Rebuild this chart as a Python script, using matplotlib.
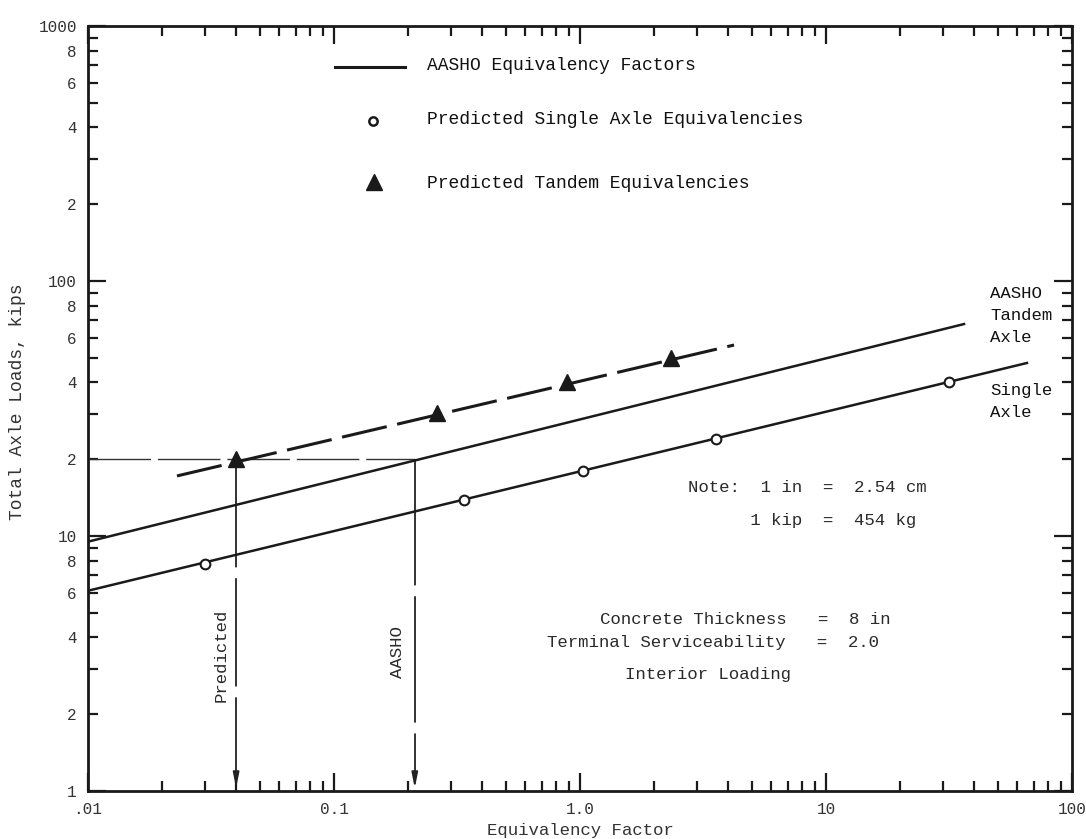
import matplotlib
matplotlib.use("Agg")
import matplotlib.pyplot as plt
from matplotlib.ticker import FixedLocator, FixedFormatter

# data (equivalency factor vs total axle load, kips)
single_x = [0.030, 0.337, 1.03, 3.57, 31.6]
single_y = [7.8, 13.8, 18.0, 24.0, 40.2]
tandem_x = [0.040, 0.262, 0.885, 2.34]
tandem_y = [20.0, 30.4, 40.2, 49.9]

aasho_single_x = [0.01, 65.6]
aasho_single_y = [6.1, 47.7]
aasho_tandem_x = [0.01, 36.4]
aasho_tandem_y = [9.5, 67.8]
pred_tandem_x = [0.023, 4.23]
pred_tandem_y = [17.2, 56.1]

design_load = 20.0
pred_factor = 0.040
aasho_factor = 0.213

x_major = [0.01, 0.1, 1, 10, 100]
x_major_labels = [".01", "0.1", "1.0", "10", "100"]
y_major = [1, 10, 100, 1000]
y_major_labels = ["1", "10", "100", "1000"]
y_minor = [m * d for d in [1, 10, 100] for m in range(2, 10)]
y_minor_labels = [str(m) if m in (2, 4, 6, 8) else "" for d in [1, 10, 100] for m in range(2, 10)]
x_minor = [m * d for d in [0.01, 0.1, 1, 10] for m in range(2, 10)]

W, H = 1086, 839
FONT = "Liberation Mono"
INK = "#1a1a1a"
TXT = "#2a2a2a"
plt.rcParams["font.family"] = FONT

fig = plt.figure(figsize=(W / 100, H / 100), dpi=100)
ax = fig.add_axes([88 / W, 1 - 791 / H, 984 / W, 765 / H])
ax.set_xscale("log")
ax.set_yscale("log")
ax.set_xlim(0.01, 100)
ax.set_ylim(1, 1000)

def fx(px):
    return px / W

def fy(py):
    return 1 - py / H

def ax_pt(px, py):
    return (px - 88) / 984, (791 - py) / 765

# AASHO lines
ax.plot(aasho_single_x, aasho_single_y, color=INK, lw=1.8, zorder=3)
ax.plot(aasho_tandem_x, aasho_tandem_y, color=INK, lw=1.8, zorder=3)
# predicted tandem (dashed)
ax.plot(pred_tandem_x, pred_tandem_y, color=INK, lw=2.2, dashes=(15, 3.5), zorder=3)

ax.plot(single_x, single_y, "o", ms=7, mfc="white", mec=INK, mew=1.5, zorder=4)
ax.plot(tandem_x, tandem_y, "^", ms=11, color=INK, zorder=4)

# construction lines for the 20 kip example
ax.plot([0.01, aasho_factor], [design_load, design_load], color="#333333", lw=1.0,
        dashes=(45, 5), zorder=2)
ax.plot([pred_factor, pred_factor], [design_load, 1.12], color="#222222", lw=1.3,
        dashes=(60, 6), zorder=2)
ax.plot([aasho_factor, aasho_factor], [design_load, 1.12], color="#222222", lw=1.3,
        dashes=(70, 6), zorder=2)
for xv in (pred_factor, aasho_factor):
    ax.annotate("", xy=(xv, 1.0), xytext=(xv, 1.18),
                arrowprops=dict(arrowstyle="-|>,head_length=0.9,head_width=0.18",
                                color="#222222", lw=1.3), zorder=3)

# ticks
ax.xaxis.set_major_locator(FixedLocator(x_major))
ax.xaxis.set_major_formatter(FixedFormatter(x_major_labels))
ax.xaxis.set_minor_locator(FixedLocator(x_minor))
ax.xaxis.set_minor_formatter(FixedFormatter([""] * len(x_minor)))
ax.yaxis.set_major_locator(FixedLocator(y_major))
ax.yaxis.set_major_formatter(FixedFormatter(y_major_labels))
ax.yaxis.set_minor_locator(FixedLocator(y_minor))
ax.yaxis.set_minor_formatter(FixedFormatter(y_minor_labels))
ax.tick_params(which="both", direction="in", top=True, right=True, width=1.6,
               colors=INK, labelsize=11.5, labelcolor="#333333")
ax.tick_params(which="major", length=13, pad=8)
ax.tick_params(which="minor", length=7, pad=8)
for s in ax.spines.values():
    s.set_linewidth(2.0)
    s.set_color(INK)

# axis titles placed like the scan
fig.text(fx(580), fy(830), "Equivalency Factor", fontsize=12.5, color="#333333",
         ha="center", va="center")
fig.text(fx(18), fy(402), "Total Axle Loads, kips", fontsize=13, color="#333333",
         rotation=90, ha="center", va="center")

# legend drawn by hand like the original
lx0, ly = ax_pt(335, 67)
lx1, _ = ax_pt(405, 67)
ax.plot([lx0, lx1], [ly, ly], transform=ax.transAxes, color=INK, lw=2.2)
ax.plot(*ax_pt(373, 121), "o", transform=ax.transAxes, ms=6, mfc="white", mec=INK, mew=1.8)
ax.plot(*ax_pt(374, 182), "^", transform=ax.transAxes, ms=12, color=INK)
legend_text = ["AASHO Equivalency Factors", "Predicted Single Axle Equivalencies",
               "Predicted Tandem Equivalencies"]
for t, py in zip(legend_text, [66, 120, 183]):
    fig.text(fx(427), fy(py), t, fontsize=13, va="center", ha="left", color="#111111")

# curve labels
for t, py in zip(["AASHO", "Tandem", "Axle"], [293, 315, 337]):
    fig.text(fx(990), fy(py), t, fontsize=12.5, va="center", ha="left", color="#111111")
for t, py in zip(["Single", "Axle"], [390, 413]):
    fig.text(fx(990), fy(py), t, fontsize=12.5, va="center", ha="left", color="#111111")

# notes
fig.text(fx(688), fy(488), "Note:  1 in  =  2.54 cm", fontsize=12.5, va="center", color=TXT)
fig.text(fx(688), fy(521), "      1 kip  =  454 kg", fontsize=12.5, va="center", color=TXT)
fig.text(fx(600), fy(620), "Concrete Thickness   =  8 in", fontsize=12.5, va="center", color=TXT)
fig.text(fx(547), fy(643), "Terminal Serviceability   =  2.0", fontsize=12.5, va="center", color=TXT)
fig.text(fx(625), fy(674), "Interior Loading", fontsize=12.5, va="center", color=TXT)

fig.text(fx(221), fy(655), "Predicted", rotation=90, fontsize=12.5, va="center", ha="center", color=TXT)
fig.text(fx(398), fy(652), "AASHO", rotation=90, fontsize=12.5, va="center", ha="center", color=TXT)

fig.savefig("out.png", dpi=100, facecolor="white")
